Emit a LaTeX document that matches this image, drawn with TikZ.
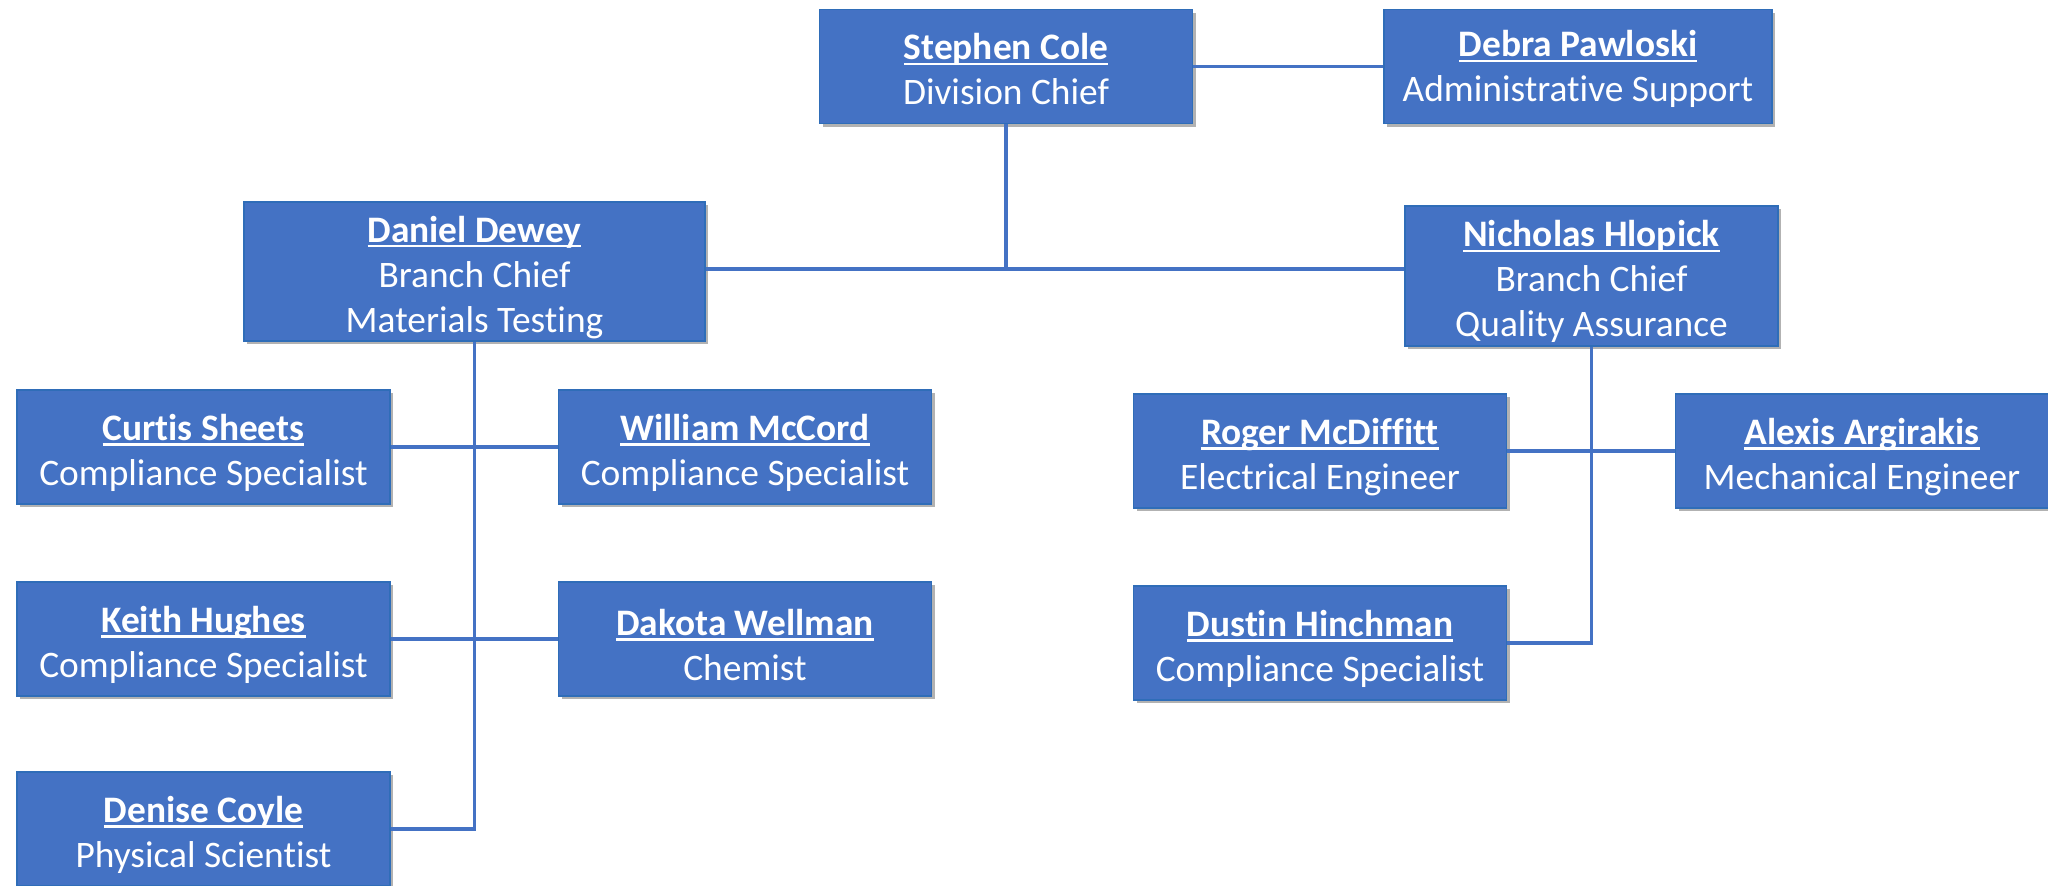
\documentclass[tikz,border=0pt]{standalone}
\usepackage{fontspec}
\setmainfont{Carlito}[Ligatures=CommonOff]
\usetikzlibrary{shadows}
\definecolor{boxfill}{HTML}{4472C4}
\definecolor{boxline}{HTML}{2F6DB8}
\newcommand{\nm}[2][19pt]{\leavevmode\rule{0pt}{#1}\setbox0\hbox{\bfseries #2}\rlap{\rule[-2.6pt]{\wd0}{1.2pt}}\box0}
\tikzset{
  person/.style={rectangle, fill=boxfill, draw=boxline, line width=0.6pt, text=white,
    align=center, font=\fontsize{18.7}{22.5}\selectfont, inner sep=0pt,
    minimum width=186.5pt, minimum height=57pt,
    drop shadow={shadow xshift=1.5pt, shadow yshift=-1.5pt, opacity=0.3, fill=black}},
  conn/.style={draw=boxfill, line width=1.75pt, line join=miter}
}
\begin{document}
\begin{tikzpicture}[x=0.5pt, y=-0.5pt]
\useasboundingbox (0,0) rectangle (2048,885);
\node[person] (SC) at (1006,66.5) {\nm[16pt]{Stephen Cole}\\Division Chief};
\node[person, minimum width=194pt] (DP) at (1578,66.5) {\nm[16pt]{Debra Pawloski}\\Administrative Support};
\node[person, minimum width=230.5pt, minimum height=69.5pt] (DD) at (474.5,271.5) {\nm{Daniel Dewey}\\Branch Chief\\Materials Testing};
\node[person, minimum height=70pt] (NH) at (1591.5,276) {\nm{Nicholas Hlopick}\\Branch Chief\\Quality Assurance};
\node[person] (CS) at (203.5,447) {\nm{Curtis Sheets}\\Compliance Specialist};
\node[person] (WM) at (745,447) {\nm{William McCord}\\Compliance Specialist};
\node[person] (KH) at (203.5,639) {\nm{Keith Hughes}\\Compliance Specialist};
\node[person] (DW) at (745,639) {\nm{Dakota Wellman}\\Chemist};
\node[person] (DC) at (203.5,829) {\nm{Denise Coyle}\\Physical Scientist};
\node[person] (RM) at (1320,451) {\nm{Roger McDiffitt}\\Electrical Engineer};
\node[person] (AA) at (1862,451) {\nm{Alexis Argirakis}\\Mechanical Engineer};
\node[person] (DH) at (1320,643) {\nm{Dustin Hinchman}\\Compliance Specialist};
\coordinate (J) at (1006,269);
\draw[conn] (SC.east) -- (DP.west);
\draw[conn] (SC.south) -- (J);
\draw[conn] (DD.east |- J) -- (NH.west |- J);
\draw[conn] (DD.south) -- (DD.south |- DC.east) -- (DC.east);
\draw[conn] (CS.east) -- (WM.west);
\draw[conn] (KH.east) -- (DW.west);
\draw[conn] (NH.south) -- (NH.south |- DH.east) -- (DH.east);
\draw[conn] (RM.east) -- (AA.west);
\end{tikzpicture}
\end{document}
